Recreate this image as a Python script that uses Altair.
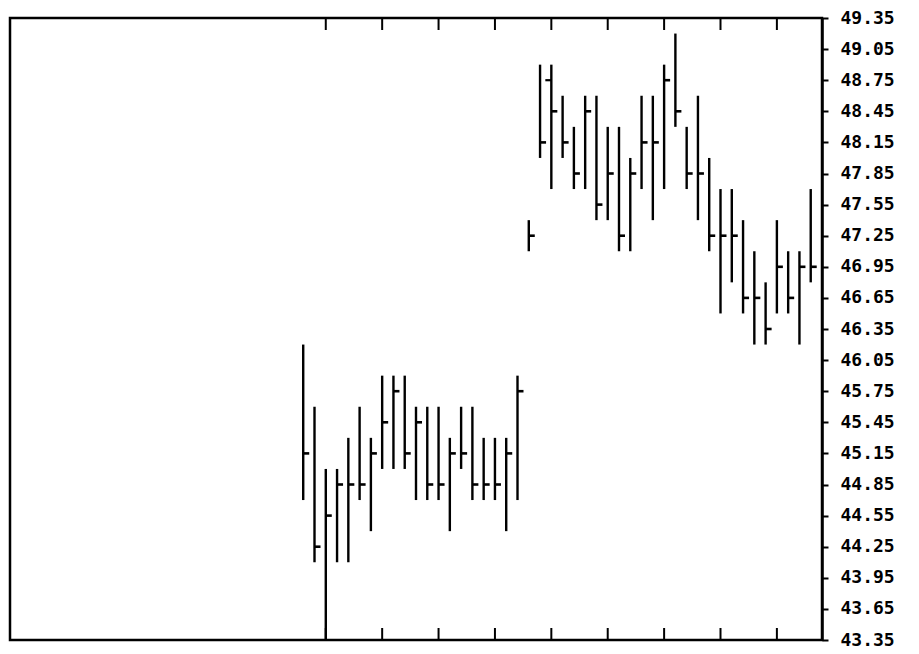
import altair as alt
import pandas as pd

# Daily high / low / close (46 sessions)
highs = [46.2, 45.6, 45.0, 45.0, 45.3, 45.6, 45.3, 45.9, 45.9, 45.9,
         45.6, 45.6, 45.6, 45.3, 45.6, 45.6, 45.3, 45.3, 45.3, 45.9,
         47.4, 48.9, 48.9, 48.6, 48.3, 48.6, 48.6, 48.3, 48.3, 48.0,
         48.6, 48.6, 48.9, 49.2, 48.3, 48.6, 48.0, 47.7, 47.7, 47.4,
         47.1, 46.8, 47.4, 47.1, 47.1, 47.7]
lows = [44.7, 44.1, 43.35, 44.1, 44.1, 44.7, 44.4, 45.0, 45.0, 45.0,
        44.7, 44.7, 44.7, 44.4, 45.0, 44.7, 44.7, 44.7, 44.4, 44.7,
        47.1, 48.0, 47.7, 48.0, 47.7, 47.7, 47.4, 47.4, 47.1, 47.1,
        47.7, 47.4, 47.7, 48.3, 47.7, 47.4, 47.1, 46.5, 46.8, 46.5,
        46.2, 46.2, 46.5, 46.5, 46.2, 46.8]
closes = [45.15, 44.25, 44.55, 44.85, 44.85, 44.85, 45.15, 45.45, 45.75, 45.15,
          45.45, 44.85, 44.85, 45.15, 45.15, 44.85, 44.85, 44.85, 45.15, 45.75,
          47.25, 48.15, 48.45, 48.15, 47.85, 48.45, 47.55, 47.85, 47.25, 47.85,
          48.15, 48.15, 48.75, 48.45, 47.85, 47.85, 47.25, 47.25, 47.25, 46.65,
          46.65, 46.35, 46.95, 46.65, 46.95, 46.95]
open_days = [22]
open_vals = [48.75]
week_ticks = [2, 7, 12, 17, 22, 27, 32, 37, 42]
y_ticks = [round(43.35 + 0.3 * k, 2) for k in range(21)]

days = list(range(len(highs)))
df = pd.DataFrame({"day": days, "high": highs, "low": lows, "close": closes})
df_open = pd.DataFrame({"day": open_days, "open": open_vals})
df_weeks = pd.DataFrame({"w": week_ticks})

W, H = 812, 622
FONT = "DejaVu Sans Mono"

xscale = alt.Scale(domain=[-26, 46], nice=False, zero=False)
yscale = alt.Scale(domain=[43.35, 49.35], nice=False, zero=False)

yaxis = alt.Axis(orient="right", values=y_ticks, format=".2f", title=None,
                 grid=False, domain=True, domainColor="black", domainWidth=2.5,
                 ticks=True, tickColor="black", tickWidth=2, tickSize=6,
                 labelFont=FONT, labelFontWeight="bold", labelFontSize=18,
                 labelColor="black", labelPadding=12, labelFlush=False,
                 labelOverlap=False, labelBound=False)

base = alt.Chart(df)

hl = base.mark_rule(color="black", strokeWidth=2.4).encode(
    x=alt.X("day:Q", scale=xscale, axis=None),
    y=alt.Y("high:Q", scale=yscale, axis=yaxis),
    y2="low:Q",
)

cl = base.mark_rule(color="black", strokeWidth=2.6, x2Offset=6).encode(
    x=alt.X("day:Q", scale=xscale, axis=None),
    x2="day:Q",
    y=alt.Y("close:Q", scale=yscale, axis=yaxis),
)

op = alt.Chart(df_open).mark_rule(color="black", strokeWidth=2.2, xOffset=-6).encode(
    x=alt.X("day:Q", scale=xscale, axis=None),
    x2="day:Q",
    y=alt.Y("open:Q", scale=yscale, axis=yaxis),
)

top_ticks = alt.Chart(df_weeks).mark_rule(color="black", strokeWidth=2).encode(
    x=alt.X("w:Q", scale=xscale, axis=None),
    y=alt.value(0),
    y2=alt.value(12),
)

bot_ticks = alt.Chart(df_weeks).mark_rule(color="black", strokeWidth=2).encode(
    x=alt.X("w:Q", scale=xscale, axis=None),
    y=alt.value(H - 12),
    y2=alt.value(H),
)

chart = alt.layer(hl, cl, op, top_ticks, bot_ticks).properties(
    width=W, height=H,
    autosize=alt.AutoSizeParams(type="none"),
    padding={"left": 2, "top": 10, "right": 89, "bottom": 14},
    background="white",
).configure_view(
    stroke="black", strokeWidth=2.5
)

chart.save("out.html", embed_options={"renderer": "svg", "actions": False})
